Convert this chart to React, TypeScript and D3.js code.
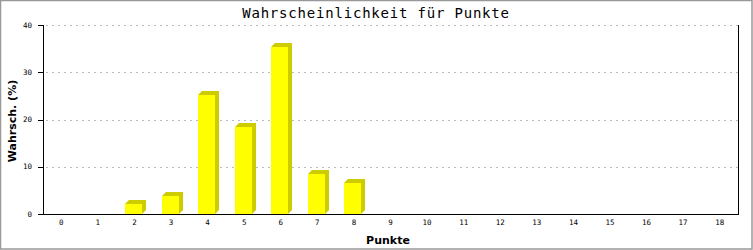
import React, { useEffect } from "react";
import * as d3 from "d3";

const categories = ["0","1","2","3","4","5","6","7","8","9","10","11","12","13","14","15","16","17","18"];
const values = [0, 0, 2.1, 3.8, 25.2, 18.4, 35.3, 8.5, 6.6, 0, 0, 0, 0, 0, 0, 0, 0, 0, 0];
const yTicks = [0, 10, 20, 30, 40];
const title = "Wahrscheinlichkeit für Punkte";
const xTitle = "Punkte";
const yTitle = "Wahrsch. (%)";

const W = 753, H = 250;
const left = 43, right = 738, top = 25, bottom = 214;

export default function App() {
  useEffect(() => {
    document.body.style.margin = "0";
  }, []);
  const x = d3.scaleBand<string>().domain(categories).range([left, right]).padding(0);
  const y = d3.scaleLinear().domain([0, 40]).range([bottom, top]);
  const bw = 17;
  const d = 4;
  const mono = "'DejaVu Sans Mono', monospace";
  const sans = "'DejaVu Sans', sans-serif";
  return (
    <svg width={W} height={H} style={{ display: "block" }}>
      <rect x={0} y={0} width={W} height={H} fill="#fff" />
      <rect x={0.5} y={0.5} width={W - 1.5} height={H - 1.5} fill="none" stroke="#999" strokeWidth={1.5} />
      {yTicks.filter(t => t > 0).map(t => (
        <line key={t} x1={left + 3} x2={right} y1={Math.round(y(t)) + 0.5} y2={Math.round(y(t)) + 0.5}
          stroke="#bbb" strokeDasharray="2,4" />
      ))}
      {values.map((v, i) => {
        if (v <= 0) return null;
        const cx = (x(categories[i]) as number) + x.bandwidth() / 2;
        const x0 = Math.round(cx - 9.5);
        const yt = Math.round(y(v));
        const yb = bottom;
        const shadow = `${x0},${yt} ${x0 + d},${yt - d} ${x0 + bw + d},${yt - d} ${x0 + bw + d},${yb - d} ${x0 + bw},${yb}`;
        return (
          <g key={i}>
            <polygon points={shadow} fill="#cccc00" />
            <rect x={x0} y={yt} width={bw} height={yb - yt} fill="#ffff00" />
          </g>
        );
      })}
      <line x1={left + 0.5} x2={left + 0.5} y1={top} y2={bottom} stroke="#000" />
      <line x1={right + 0.5} x2={right + 0.5} y1={top} y2={bottom + 0.5} stroke="#000" />
      <line x1={left} x2={right + 1} y1={bottom + 0.5} y2={bottom + 0.5} stroke="#000" />
      {yTicks.map(t => (
        <g key={t}>
          <line x1={left - 5} x2={left} y1={Math.round(y(t)) + 0.5} y2={Math.round(y(t)) + 0.5} stroke="#000" />
          <text x={left - 11} y={y(t) + 2.5} textAnchor="end" fontFamily={mono} fontSize={7.5}>{t}</text>
        </g>
      ))}
      {categories.map(c => (
        <text key={c} x={(x(c) as number) + x.bandwidth() / 2} y={225} textAnchor="middle" fontFamily={mono} fontSize={7.5}>{c}</text>
      ))}
      <text x={376} y={18} textAnchor="middle" fontFamily={mono} fontSize={14} letterSpacing={0.8}>{title}</text>
      <text x={388} y={244} textAnchor="middle" fontFamily={sans} fontWeight="bold" fontSize={11}>{xTitle}</text>
      <text transform={`translate(16,${121}) rotate(-90)`} textAnchor="middle" fontFamily={sans} fontWeight="bold" fontSize={11}>{yTitle}</text>
    </svg>
  );
}
